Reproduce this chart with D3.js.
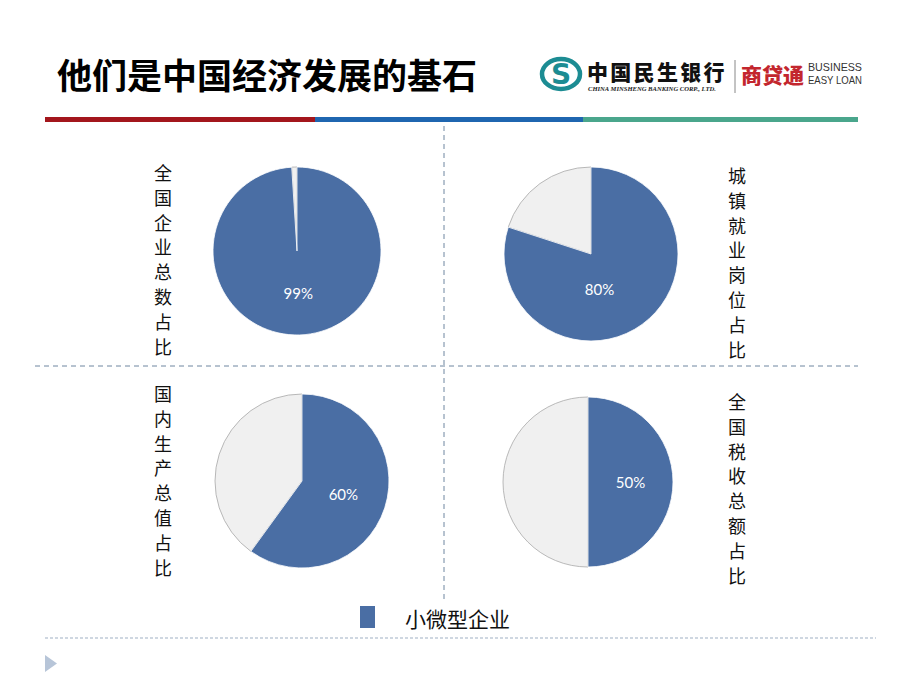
<!DOCTYPE html>
<html>
<head>
<meta charset="utf-8">
<script src="https://cdn.jsdelivr.net/npm/d3@7/dist/d3.min.js"></script>
<style>
  html, body { margin: 0; padding: 0; background: #fff; }
  svg { display: block; }
</style>
</head>
<body>
<div id="chart"></div>
<script>
// ---- data ----
const title = "他们是中国经济发展的基石";
const categories = ["全国企业总数占比", "城镇就业岗位占比", "国内生产总值占比", "全国税收总额占比"];
const seriesName = "小微型企业";
const shareValues = [99, 80, 60, 50];   // 小微型企业 share, %
const restValues = [1, 20, 40, 50];     // remainder, %

// ---- layout ----
const W = 920, H = 690;
const blue = "#4A6EA4", grey = "#F0F0F0";
const cjk = "'Noto Sans CJK SC', 'Noto Sans', sans-serif";

const panels = [
  { cx: 297, cy: 251, r: 84, labelX: 163, labelY: 172, labelNudge: [0, 0] },
  { cx: 591, cy: 254, r: 87, labelX: 737, labelY: 175, labelNudge: [-17, 0] },
  { cx: 302, cy: 481, r: 87, labelX: 163, labelY: 393, labelNudge: [0, 0] },
  { cx: 588, cy: 482, r: 85, labelX: 737, labelY: 401, labelNudge: [0, 0] }
];

const svg = d3.select("#chart").append("svg").attr("width", W).attr("height", H);

// title
svg.append("text").attr("x", 57).attr("y", 89)
  .attr("font-family", cjk).attr("font-weight", 700).attr("font-size", 35)
  .attr("fill", "#000").text(title);

// logo
const logo = svg.append("g");
logo.append("ellipse").attr("cx", 561).attr("cy", 74).attr("rx", 19).attr("ry", 15)
  .attr("fill", "none").attr("stroke", "#1C8C93").attr("stroke-width", 4.5);
logo.append("text").attr("x", 561).attr("y", 84).attr("text-anchor", "middle")
  .attr("font-family", "'DejaVu Sans', sans-serif").attr("font-weight", 700).attr("font-size", 28)
  .attr("fill", "#1C8C93").text("S");
logo.append("text").attr("x", 587).attr("y", 80)
  .attr("font-family", cjk).attr("font-weight", 900).attr("font-size", 21)
  .attr("letter-spacing", 2.3).attr("fill", "#111").text("中国民生银行");
logo.append("text").attr("x", 588).attr("y", 91)
  .attr("font-family", "'Liberation Serif', serif").attr("font-style", "italic").attr("font-weight", 700)
  .attr("font-size", 6.6).attr("fill", "#222").text("CHINA MINSHENG BANKING CORP.,  LTD.");
logo.append("line").attr("x1", 735).attr("x2", 735).attr("y1", 60).attr("y2", 93)
  .attr("stroke", "#888").attr("stroke-width", 1);
logo.append("text").attr("x", 741).attr("y", 83)
  .attr("font-family", cjk).attr("font-weight", 900).attr("font-size", 21)
  .attr("fill", "#C3262E").text("商贷通");
logo.append("text").attr("x", 808).attr("y", 71)
  .attr("font-family", "'Liberation Sans', sans-serif").attr("font-size", 10.5)
  .attr("textLength", 54).attr("lengthAdjust", "spacingAndGlyphs").attr("fill", "#333").text("BUSINESS");
logo.append("text").attr("x", 808).attr("y", 84)
  .attr("font-family", "'Liberation Sans', sans-serif").attr("font-size", 10.5)
  .attr("textLength", 54).attr("lengthAdjust", "spacingAndGlyphs").attr("fill", "#333").text("EASY LOAN");

// tri-colour bar
const bars = [["#A3161C", 45, 315], ["#1F66B0", 315, 583], ["#4AA68C", 583, 858]];
svg.selectAll("rect.bar").data(bars).enter().append("rect")
  .attr("x", d => d[1]).attr("y", 117).attr("width", d => d[2] - d[1]).attr("height", 5)
  .attr("fill", d => d[0]);

// dashed dividers
const dashCol = "#6F86A0";
svg.append("line").attr("x1", 444).attr("x2", 444).attr("y1", 126).attr("y2", 600)
  .attr("stroke", dashCol).attr("stroke-width", 1).attr("stroke-dasharray", "5,4");
svg.append("line").attr("x1", 35).attr("x2", 858).attr("y1", 366).attr("y2", 366)
  .attr("stroke", dashCol).attr("stroke-width", 1).attr("stroke-dasharray", "5,4");
svg.append("line").attr("x1", 45).attr("x2", 876).attr("y1", 638).attr("y2", 638)
  .attr("stroke", "#9FB0C4").attr("stroke-width", 1.2).attr("stroke-dasharray", "3,2");
svg.append("path").attr("d", "M45,655 L57,663.5 L45,672 Z").attr("fill", "#B7C5D8");

// pies
const pie = d3.pie().sort(null).value(d => d.v);
categories.forEach((cat, i) => {
  const p = panels[i];
  const g = svg.append("g").attr("transform", `translate(${p.cx},${p.cy})`);
  const data = [{ k: "share", v: shareValues[i] }, { k: "rest", v: restValues[i] }];
  const arcs = pie(data);
  const arc = d3.arc().innerRadius(0).outerRadius(p.r);
  const labelArc = d3.arc().innerRadius(p.r * 0.5).outerRadius(p.r * 0.5);
  g.append("path").attr("d", arc(arcs[1]))
    .attr("fill", grey).attr("stroke", "#A8A8A8").attr("stroke-width", 0.8);
  g.append("path").attr("d", arc(arcs[0]))
    .attr("fill", blue).attr("stroke", "#fff").attr("stroke-width", 0.8);
  const c = labelArc.centroid(arcs[0]);
  g.append("text").attr("x", c[0] + p.labelNudge[0]).attr("y", c[1] + p.labelNudge[1])
    .attr("text-anchor", "middle").attr("dominant-baseline", "central")
    .attr("font-family", "Lato, 'Open Sans', sans-serif").attr("font-size", 15)
    .attr("fill", "#fff").text(shareValues[i] + "%");
  svg.append("g").selectAll("text").data(Array.from(cat)).enter().append("text")
    .attr("x", p.labelX).attr("y", (d, j) => p.labelY + j * 24.8)
    .attr("text-anchor", "middle").attr("dominant-baseline", "central")
    .attr("font-family", cjk).attr("font-size", 18).attr("fill", "#111")
    .text(d => d);
});

// legend
svg.append("rect").attr("x", 360).attr("y", 606).attr("width", 15).attr("height", 22).attr("fill", blue);
svg.append("text").attr("x", 405).attr("y", 618).attr("dominant-baseline", "central")
  .attr("font-family", cjk).attr("font-size", 21).attr("fill", "#111").text(seriesName);
</script>
</body>
</html>
